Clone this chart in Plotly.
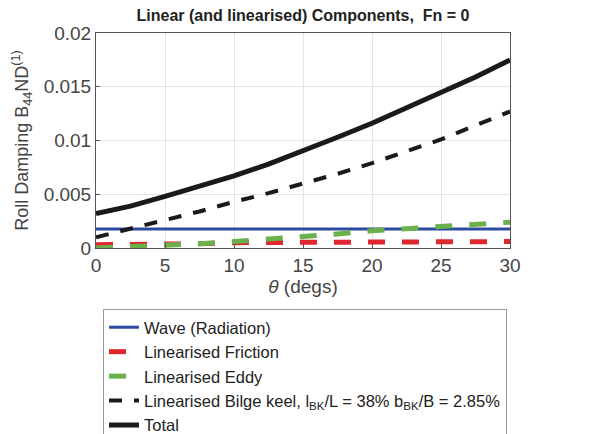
import plotly.graph_objects as go

theta = [0, 2.5, 5, 7.5, 10, 12.5, 15, 17.5, 20, 22.5, 25, 27.5, 30]
wave = [0.00177] * 13
friction = [0.0003, 0.0003, 0.0004, 0.0004, 0.0005, 0.0005, 0.0005, 0.0005, 0.0005, 0.0005, 0.0005, 0.0006, 0.0006]
eddy = [0.0000, 0.0001, 0.0002, 0.0004, 0.0006, 0.0008, 0.0011, 0.0013, 0.0016, 0.0018, 0.0020, 0.0022, 0.0024]
bilge = [0.0010, 0.0018, 0.0026, 0.0034, 0.0043, 0.0051, 0.0060, 0.0069, 0.0079, 0.0090, 0.0101, 0.0114, 0.0127]
total = [0.0032, 0.0039, 0.0048, 0.0057, 0.0067, 0.0078, 0.0090, 0.0103, 0.0116, 0.0130, 0.0144, 0.0159, 0.0175]

fig = go.Figure()
fig.add_trace(go.Scatter(x=theta, y=wave, mode="lines", name="Wave (Radiation)",
                         line=dict(color="#2e4a9e", width=3)))
fig.add_trace(go.Scatter(x=theta, y=friction, mode="lines", name="Linearised Friction",
                         line=dict(color="#e0262f", width=5, dash="17px,17px")))
fig.add_trace(go.Scatter(x=theta, y=eddy, mode="lines", name="Linearised Eddy",
                         line=dict(color="#6ab04c", width=5, dash="17px,17px")))
fig.add_trace(go.Scatter(x=theta, y=bilge, mode="lines",
                         name="Linearised Bilge keel, l<sub>BK</sub>/L = 38% b<sub>BK</sub>/B = 2.85%",
                         line=dict(color="#1a1a1a", width=4, dash="13px,12px")))
fig.add_trace(go.Scatter(x=theta, y=total, mode="lines", name="Total",
                         line=dict(color="#1a1a1a", width=5)))

fig.update_layout(
    width=604, height=434,
    margin=dict(l=96, r=94, t=33, b=186, autoexpand=False),
    paper_bgcolor="white", plot_bgcolor="white",
    font=dict(family="Liberation Sans, Arial, sans-serif", color="#333"),
    title=dict(text="<b>Linear (and linearised) Components,  Fn = 0</b>",
               x=(96 + 510) / 2 / 604, xanchor="center", y=1 - 15 / 434, yanchor="middle",
               font=dict(size=16, color="#222")),
    showlegend=True,
    legend=dict(x=(103 - 96) / 414, xanchor="left", y=(248 - 309) / 215, yanchor="top",
                bordercolor="#999", borderwidth=1, bgcolor="white",
                font=dict(size=16.5, color="#222"), tracegroupgap=0, itemwidth=30),
    xaxis=dict(range=[0, 30], tickvals=[0, 5, 10, 15, 20, 25, 30],
               showgrid=True, gridcolor="#e3e3e3", zeroline=False,
               showline=True, linecolor="#555", mirror=True, ticks="inside", ticklen=4,
               tickcolor="#555", tickfont=dict(size=19, color="#444"),
               title=dict(text="<i>θ</i> (degs)", font=dict(size=19, color="#444"), standoff=0)),
    yaxis=dict(range=[0, 0.02], tickvals=[0, 0.005, 0.01, 0.015, 0.02],
               ticktext=["0", "0.005", "0.01", "0.015", "0.02"],
               showgrid=True, gridcolor="#e3e3e3", zeroline=False,
               showline=True, linecolor="#555", mirror=True, ticks="inside", ticklen=4,
               tickcolor="#555", tickfont=dict(size=19, color="#444"),
               title=dict(text="Roll Damping B<sub>44</sub>ND<sup>(1)</sup>",
                          font=dict(size=18, color="#444"), standoff=10)),
)

fig.write_html("out.html")
